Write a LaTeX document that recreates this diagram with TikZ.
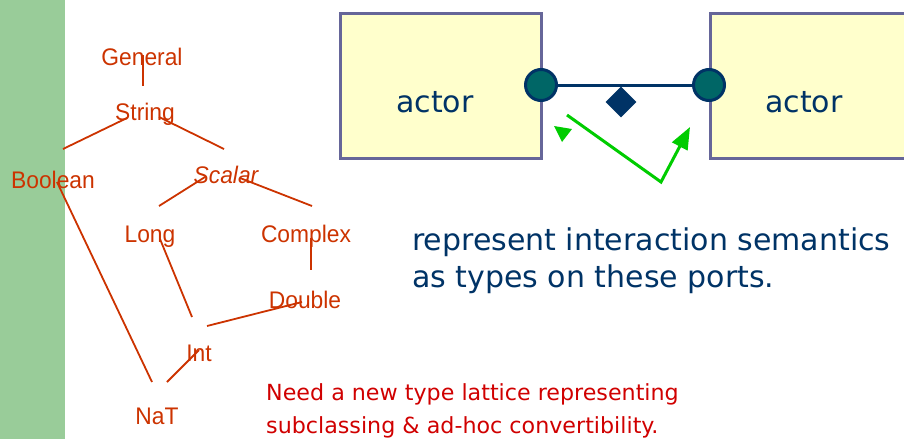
\documentclass[tikz,border=0pt]{standalone}
\usepackage{fontspec}
\setmainfont{DejaVu Sans}
\newfontfamily\latfont[FakeStretch=0.95]{Liberation Sans}
\usetikzlibrary{arrows.meta,shapes.geometric}

\definecolor{barGreen}{HTML}{99CC99}
\definecolor{latRed}{HTML}{CC3300}
\definecolor{noteRed}{HTML}{D00000}
\definecolor{navy}{HTML}{003366}
\definecolor{boxEdge}{HTML}{666699}
\definecolor{boxFill}{HTML}{FFFFCC}
\definecolor{portFill}{HTML}{006666}
\definecolor{flowGreen}{HTML}{00CC00}

\tikzset{
	lat/.style={text=latRed, anchor=base, inner sep=0pt, font=\latfont\fontsize{24}{28}\selectfont},
	latline/.style={draw=latRed, line width=1.8pt},
	actorbox/.style={rectangle, draw=boxEdge, fill=boxFill, line width=3pt, inner sep=0pt, minimum width=201pt, minimum height=145pt},
	port/.style={circle, draw=navy, fill=portFill, line width=3pt, inner sep=0pt, minimum size=31pt},
	bigtext/.style={text=navy, inner sep=0pt, font=\fontsize{30}{34}\selectfont},
	notetext/.style={text=noteRed, anchor=base west, inner sep=0pt, font=\fontsize{22.2}{26}\selectfont},
}

\begin{document}
\begin{tikzpicture}[x=1pt, y=-1pt]
	%%%%% START %%%%%
	\useasboundingbox (0,0) rectangle (904,439);

	\fill[barGreen] (0,0) rectangle (65,439);

	% type lattice
	\node[lat] (General) at (142,65) {General};
	\node[lat] (String) at (145,120) {String};
	\node[lat] (Boolean) at (53,188) {Boolean};
	\node[lat] (Scalar) at (226,183) {\itshape Scalar};
	\node[lat] (Long) at (150,242) {Long};
	\node[lat] (Complex) at (306,242) {Complex};
	\node[lat] (Double) at (305,308) {Double};
	\node[lat] (Int) at (199,361) {Int};
	\node[lat] (NaT) at (157,424) {NaT};

	\draw[latline] ([shift={(1,-10)}]General.base) -- ([shift={(-2,-34)}]String.base);
	\draw[latline] ([shift={(-18,-2)}]String.base) -- ([shift={(10,-39)}]Boolean.base);
	\draw[latline] ([shift={(14,-3)}]String.base) -- ([shift={(-2,-34)}]Scalar.base);
	\draw[latline] ([shift={(-21,-6)}]Scalar.base) -- ([shift={(9,-36)}]Long.base);
	\draw[latline] ([shift={(14,-5)}]Scalar.base) -- ([shift={(6,-36)}]Complex.base);
	\draw[latline] ([shift={(4,-6)}]Boolean.base) -- ([shift={(-5,-42)}]NaT.base);
	\draw[latline] ([shift={(10,-3)}]Long.base) -- ([shift={(-7,-44)}]Int.base);
	\draw[latline] ([shift={(5,-4)}]Complex.base) -- ([shift={(6,-38)}]Double.base);
	\draw[latline] ([shift={(-3,-6)}]Double.base) -- ([shift={(8,-35)}]Int.base);
	\draw[latline] ([shift={(0,-11)}]Int.base) -- ([shift={(10,-42)}]NaT.base);

	% actors and their ports
	\node[actorbox] (actorL) at (440.5,85.5) {};
	\node[actorbox] (actorR) at (810.5,85.5) {};
	\node[bigtext, anchor=base] (nameL) at (435,112) {actor};
	\node[bigtext, anchor=base] (nameR) at (804,112) {actor};

	\node[port] (portL) at (541,85) {};
	\node[port] (portR) at (709,85) {};
	\draw[navy, line width=3pt] (portL) -- (portR);
	\node[diamond, fill=navy, inner sep=0pt, minimum width=31pt, minimum height=31pt] (rel) at (621,102) {};

	% token flow between the ports
	\coordinate (flowA) at (567,115);
	\coordinate (flowB) at (661,182);
	\coordinate (flowC) at (690,127);
	\draw[flowGreen, line width=3pt, -{Triangle[length=22pt, width=17pt]}] (flowA) -- (flowB) -- (flowC);
	\fill[flowGreen] (554,126) -- (572,129) -- (562,142) -- cycle;

	\node[bigtext, anchor=base west] (sem1) at (412,250) {represent interaction semantics};
	\node[bigtext, anchor=base west] (sem2) at (412,287) {as types on these ports.};

	\node[notetext] (note1) at (266,400) {Need a new type lattice representing};
	\node[notetext] (note2) at (266,433) {subclassing \& ad-hoc convertibility.};
	%%%%% END %%%%%
\end{tikzpicture}
\end{document}
